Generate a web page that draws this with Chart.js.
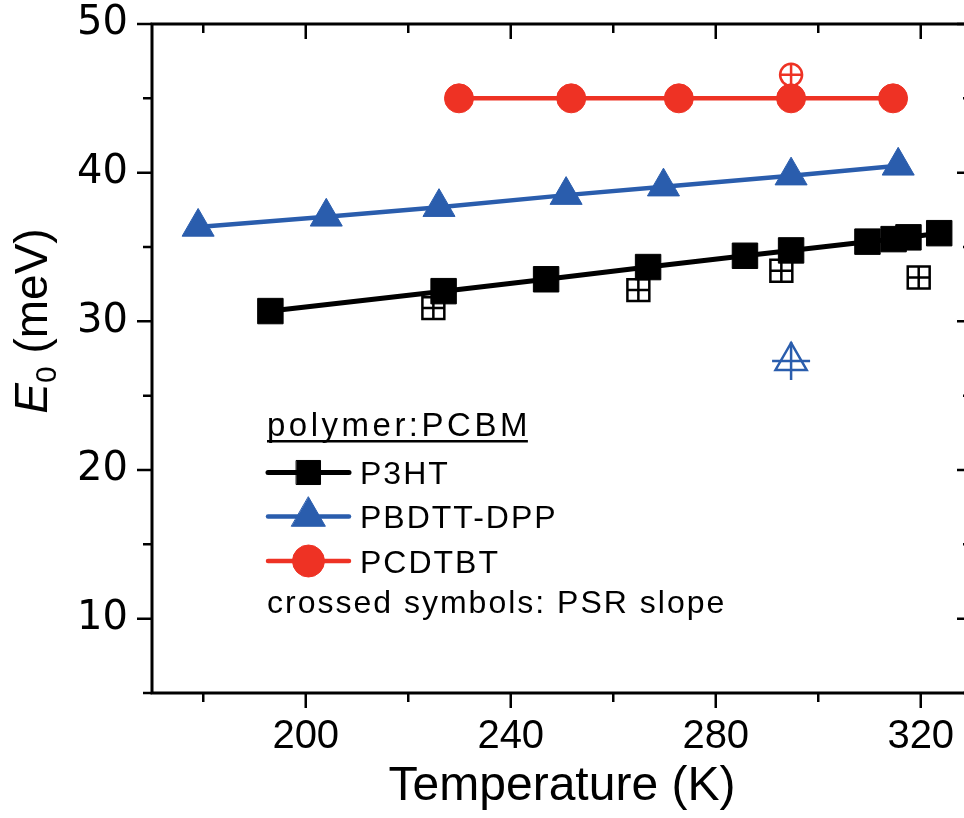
<!DOCTYPE html>
<html><head><meta charset="utf-8">
<script src="https://cdn.jsdelivr.net/npm/chart.js@4.4.1/dist/chart.umd.min.js"></script>
<style>
html,body{margin:0;padding:0;background:#fff;overflow:hidden;width:964px;height:818px;}
#wrap{position:absolute;left:0;top:0;width:976px;height:818px;}
</style></head><body>
<div id="wrap"><canvas id="c" width="976" height="818"></canvas></div>
<script>
// ---- data ----
const p3htT  = [193.1, 226.9, 246.9, 266.8, 285.7, 294.7, 309.6, 314.7, 317.6, 323.6];
const p3htE  = [30.69, 32.03, 32.83, 33.65, 34.41, 34.77, 35.36, 35.53, 35.65, 35.93];
const pbdttT = [179.0, 204.0, 226.0, 250.8, 269.8, 294.7, 315.6];
const pbdttE = [36.35, 37.03, 37.68, 38.49, 39.06, 39.80, 40.46];
const pcdtbtT = [229.9, 251.8, 272.8, 294.7, 314.6];
const pcdtbtE = [45.0, 45.0, 45.0, 45.0, 45.0];
const p3htPsrT = [224.9, 264.9, 292.8, 319.6];
const p3htPsrE = [30.89, 32.10, 33.40, 32.95];
const pbdttPsrT = [294.7];
const pbdttPsrE = [27.34];
const pcdtbtPsrT = [294.7];
const pcdtbtPsrE = [46.58];
const seriesNames = ['P3HT', 'PBDTT-DPP', 'PCDTBT'];
const legendTitle = 'polymer:PCBM';
const legendNote = 'crossed symbols: PSR slope';
const xTickValues = [200, 240, 280, 320];
const xMinorValues = [180, 220, 260, 300];
const yTickValues = [10, 20, 30, 40, 50];
const yMinorValues = [5, 15, 25, 35, 45];
const xRange = [170, 330];
const yRange = [5, 50];
const xTitle = 'Temperature (K)';
const yTitleSymbol = 'E', yTitleSub = '0', yTitleUnit = ' (meV)';

// ---- styles ----
const BLACK = '#000000', BLUE = '#2A5DAD', RED = '#EE3224';
const FONT = '"Liberation Sans", Arial, Helvetica, sans-serif';
const toXY = (xs, ys) => xs.map((x, i) => ({x: x, y: ys[i]}));

Chart.defaults.font.family = FONT;
Chart.defaults.color = BLACK;

const mainStyle = [
  {color: BLACK, style: 'rect', r: 18, lw: 5},
  {color: BLUE, style: 'triangle', r: 18.5, lw: 4.5},
  {color: RED, style: 'circle', r: 14.5, lw: 4.5}
];

function mainSet(i, xs, ys) {
  const s = mainStyle[i];
  return {label: seriesNames[i], data: toXY(xs, ys), showLine: true, borderColor: s.color, borderWidth: s.lw,
    backgroundColor: s.color, pointStyle: s.style, pointRadius: s.r, pointBackgroundColor: s.color,
    pointBorderColor: s.color, pointBorderWidth: 1, tension: 0, fill: false};
}
function openSet(label, xs, ys, color, style, r) {
  return {label: label, data: toXY(xs, ys), showLine: false, pointStyle: style, pointRadius: r,
    pointBackgroundColor: 'rgba(255,255,255,0)', pointBorderColor: color, pointBorderWidth: 2.5};
}

const frameTicks = {
  id: 'frameTicks',
  afterDatasetsDraw(chart) {
    const ctx = chart.ctx, a = chart.chartArea, xs = chart.scales.x, ys = chart.scales.y;
    ctx.save();
    ctx.strokeStyle = BLACK;
    ctx.lineCap = 'butt';
    ctx.lineWidth = 3;
    ctx.beginPath();
    ctx.moveTo(a.left, a.top); ctx.lineTo(a.right, a.top);
    ctx.moveTo(a.left, a.bottom); ctx.lineTo(a.right, a.bottom);
    ctx.moveTo(a.left, a.top - 1.5); ctx.lineTo(a.left, a.bottom + 1.5);
    ctx.moveTo(a.right, a.top - 1.5); ctx.lineTo(a.right, a.bottom + 1.5);
    ctx.stroke();
    ctx.lineWidth = 2.5;
    ctx.beginPath();
    const xt = (vals, len) => vals.forEach(v => {
      const p = xs.getPixelForValue(v);
      ctx.moveTo(p, a.bottom); ctx.lineTo(p, a.bottom + len);
      ctx.moveTo(p, a.top); ctx.lineTo(p, a.top + len);
    });
    const yt = (vals, len) => vals.forEach(v => {
      const p = ys.getPixelForValue(v);
      ctx.moveTo(a.left, p); ctx.lineTo(a.left - len, p);
      ctx.moveTo(a.right, p); ctx.lineTo(a.right - len, p);
    });
    xt(xTickValues, 15); xt(xMinorValues, 9);
    yt(yTickValues, 15); yt(yMinorValues, 9);
    ctx.stroke();
    ctx.restore();
  },
  afterDraw(chart) {
    const ctx = chart.ctx;
    ctx.save();
    // y-axis title: italic E with subscript 0
    ctx.translate(47, 321);
    ctx.rotate(-Math.PI / 2);
    ctx.fillStyle = BLACK;
    ctx.textBaseline = 'alphabetic';
    const fMain = '46px ' + FONT, fIt = 'italic 46px ' + FONT, fSub = '30px ' + FONT;
    ctx.font = fIt; const wE = ctx.measureText(yTitleSymbol).width;
    ctx.font = fSub; const wS = ctx.measureText(yTitleSub).width;
    ctx.font = fMain; const wU = ctx.measureText(yTitleUnit).width;
    let x0 = -(wE + wS + wU) / 2;
    ctx.font = fIt; ctx.fillText(yTitleSymbol, x0, 0); x0 += wE;
    ctx.font = fSub; ctx.fillText(yTitleSub, x0, 9); x0 += wS;
    ctx.font = fMain; ctx.fillText(yTitleUnit, x0, 0);
    ctx.restore();

    // legend
    ctx.save();
    ctx.fillStyle = BLACK;
    ctx.textBaseline = 'alphabetic';
    ctx.font = '33px ' + FONT;
    if ('letterSpacing' in ctx) ctx.letterSpacing = '3.5px';
    ctx.fillText(legendTitle, 267, 436);
    const tw = ctx.measureText(legendTitle).width;
    ctx.fillRect(267, 440, tw - 3, 2.5);
    ctx.font = '32px ' + FONT;
    if ('letterSpacing' in ctx) ctx.letterSpacing = '2px';
    const rowY = [472.5, 516.5, 561];
    const legR = [17, 19.5, 16];
    seriesNames.forEach((name, i) => {
      const s = mainStyle[i], y = rowY[i];
      ctx.strokeStyle = s.color; ctx.fillStyle = s.color;
      ctx.lineWidth = s.lw; ctx.lineCap = 'round';
      ctx.beginPath(); ctx.moveTo(268, y); ctx.lineTo(349, y); ctx.stroke();
      ctx.lineWidth = 1;
      Chart.helpers.drawPoint(ctx, {pointStyle: s.style, radius: legR[i], borderWidth: 1, rotation: 0}, 308.5, y);
      ctx.fillStyle = BLACK;
      ctx.fillText(name, 360, y + 11.5);
    });
    ctx.fillText(legendNote, 267, 613);
    ctx.restore();
  }
};

new Chart(document.getElementById('c'), {
  type: 'scatter',
  data: {
    datasets: [
      mainSet(0, p3htT, p3htE),
      mainSet(1, pbdttT, pbdttE),
      mainSet(2, pcdtbtT, pcdtbtE),
      openSet('P3HT PSR', p3htPsrT, p3htPsrE, BLACK, 'rect', 15.5),
      openSet('P3HT PSR cross', p3htPsrT, p3htPsrE, BLACK, 'cross', 11),
      openSet('PBDTT-DPP PSR', pbdttPsrT, pbdttPsrE, BLUE, 'triangle', 18),
      openSet('PBDTT-DPP PSR cross', pbdttPsrT, pbdttPsrE, BLUE, 'cross', 19),
      openSet('PCDTBT PSR', pcdtbtPsrT, pcdtbtPsrE, RED, 'circle', 11),
      openSet('PCDTBT PSR cross', pcdtbtPsrT, pcdtbtPsrE, RED, 'cross', 11)
    ]
  },
  options: {
    responsive: false,
    animation: false,
    devicePixelRatio: 1,
    events: [],
    layout: {autoPadding: false, padding: {top: 24, right: 4, left: 0, bottom: 0}},
    plugins: {legend: {display: false}, tooltip: {enabled: false}},
    scales: {
      x: {
        type: 'linear', position: 'bottom', min: xRange[0], max: xRange[1],
        afterBuildTicks: s => { s.ticks = xTickValues.map(v => ({value: v})); },
        afterFit: s => { s.height = 125; s.paddingLeft = 0; s.paddingRight = 0; s.paddingTop = 0; s.paddingBottom = 0; },
        grid: {display: false, drawTicks: false},
        border: {display: false},
        ticks: {font: {size: 40, family: FONT, lineHeight: 2.2}, color: BLACK, padding: 0, maxRotation: 0, autoSkip: false},
        title: {display: true, text: xTitle, font: {size: 48, family: FONT}, color: BLACK, padding: {top: 0, bottom: 2}}
      },
      y: {
        type: 'linear', position: 'left', min: yRange[0], max: yRange[1],
        afterBuildTicks: s => { s.ticks = yTickValues.map(v => ({value: v})); },
        afterFit: s => { s.width = 152; s.paddingLeft = 0; s.paddingRight = 0; s.paddingTop = 0; s.paddingBottom = 0; },
        grid: {display: false, drawTicks: false},
        border: {display: false},
        ticks: {font: {size: 40, family: '"DejaVu Sans", sans-serif'}, color: BLACK, padding: 24, autoSkip: false},
        title: {display: false}
      }
    }
  },
  plugins: [frameTicks]
});
</script>
</body></html>
